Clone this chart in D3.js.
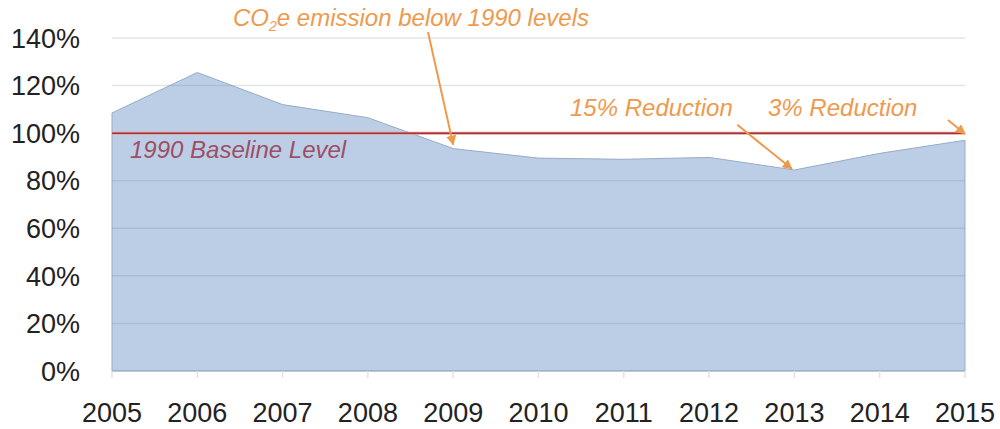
<!DOCTYPE html>
<html>
<head>
<meta charset="utf-8">
<script src="https://cdn.jsdelivr.net/npm/d3@7"></script>
<style>
  body { margin: 0; background: #fff; }
  svg { display: block; font-family: "Liberation Sans", Arial, sans-serif; }
</style>
</head>
<body>
<svg id="chart" width="1000" height="429"></svg>
<script>
// data (percent of 1990 level)
const years = [2005, 2006, 2007, 2008, 2009, 2010, 2011, 2012, 2013, 2014, 2015];
const emissions = [108.5, 125.5, 112, 106.5, 93.5, 89.5, 89, 89.8, 84.5, 91.5, 97];
const yTicks = [0, 20, 40, 60, 80, 100, 120, 140];
const baseline = 100;

// annotations: label, arrow start/end (year,value)
const notes = [
  { text: "15% Reduction", tx: 570, from: [2012.33, 103.5], to: [2012.97, 85] },
  { text: "3% Reduction", tx: 768, from: [2014.8, 105.5], to: [2015.0, 99.7] }
];

const svg = d3.select("#chart");
const x = d3.scaleLinear().domain([2005, 2015]).range([112, 965]);
const y = d3.scaleLinear().domain([0, 140]).range([371, 38]);

// arrow head
svg.append("defs").append("marker")
  .attr("id", "arr")
  .attr("viewBox", "0 0 10 10")
  .attr("refX", 9).attr("refY", 5)
  .attr("markerWidth", 5).attr("markerHeight", 5)
  .attr("orient", "auto")
  .append("path")
  .attr("d", "M0,0 L10,5 L0,10 z")
  .attr("fill", "#ee9a4d");

// area
const area = d3.area()
  .x((d, i) => x(years[i]))
  .y0(y(0))
  .y1(d => y(d));

svg.append("path")
  .datum(emissions)
  .attr("d", area)
  .attr("fill", "#bccee5")
  .attr("stroke", "#97acc8")
  .attr("stroke-width", 1);

// gridlines (semi-transparent so they get darker over the area)
svg.append("g")
  .selectAll("line")
  .data(yTicks.filter(t => t !== baseline))
  .join("line")
  .attr("x1", x(2005)).attr("x2", x(2015))
  .attr("y1", d => y(d)).attr("y2", d => y(d))
  .attr("stroke", "rgba(110,125,150,0.2)")
  .attr("stroke-width", 1.5);

// x ticks
svg.append("g")
  .selectAll("line")
  .data(years)
  .join("line")
  .attr("x1", d => x(d)).attr("x2", d => x(d))
  .attr("y1", y(0)).attr("y2", y(0) + 7)
  .attr("stroke", "#e2e2e2")
  .attr("stroke-width", 1.5);

// baseline
svg.append("line")
  .attr("x1", x(2005)).attr("x2", x(2015))
  .attr("y1", y(baseline)).attr("y2", y(baseline))
  .attr("stroke", "#e8a0a0").attr("stroke-width", 3);
svg.append("line")
  .attr("x1", x(2005)).attr("x2", x(2015))
  .attr("y1", y(baseline)).attr("y2", y(baseline))
  .attr("stroke", "#a53232").attr("stroke-width", 1.5);

svg.append("text")
  .attr("x", 130).attr("y", 158)
  .attr("font-size", 24).attr("font-style", "italic")
  .attr("fill", "#9c4f66")
  .text("1990 Baseline Level");

// y labels
svg.append("g")
  .selectAll("text")
  .data(yTicks)
  .join("text")
  .attr("x", 80).attr("y", d => y(d))
  .attr("dy", "0.36em")
  .attr("text-anchor", "end")
  .attr("font-size", 27)
  .attr("fill", "#222")
  .text(d => d + "%");

// x labels
svg.append("g")
  .selectAll("text")
  .data(years)
  .join("text")
  .attr("x", d => x(d)).attr("y", 422)
  .attr("text-anchor", "middle")
  .attr("font-size", 27)
  .attr("fill", "#222")
  .text(d => d);

// annotations
const orange = "#ee9a4d";
const titleNote = svg.append("text")
  .attr("x", 233).attr("y", 26)
  .attr("font-size", 24).attr("font-style", "italic")
  .attr("fill", orange);
titleNote.append("tspan").text("CO");
titleNote.append("tspan").attr("font-size", 14).attr("dy", 5).text("2");
titleNote.append("tspan").attr("dy", -5).text("e emission below 1990 levels");

svg.append("line")
  .attr("x1", 428).attr("y1", 32)
  .attr("x2", x(2009)).attr("y2", y(emissions[4]) - 4)
  .attr("stroke", orange).attr("stroke-width", 2)
  .attr("marker-end", "url(#arr)");

svg.append("g")
  .selectAll("text")
  .data(notes)
  .join("text")
  .attr("x", d => d.tx).attr("y", 116)
  .attr("font-size", 24).attr("font-style", "italic")
  .attr("fill", orange)
  .text(d => d.text);

svg.append("g")
  .selectAll("line")
  .data(notes)
  .join("line")
  .attr("x1", d => x(d.from[0])).attr("y1", d => y(d.from[1]))
  .attr("x2", d => x(d.to[0])).attr("y2", d => y(d.to[1]))
  .attr("stroke", orange).attr("stroke-width", 2)
  .attr("marker-end", "url(#arr)");
</script>
</body>
</html>
